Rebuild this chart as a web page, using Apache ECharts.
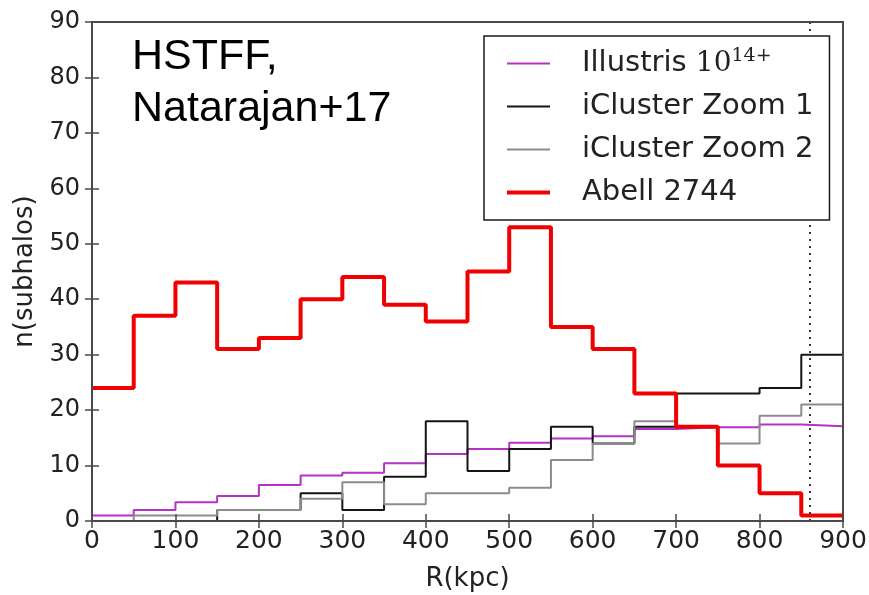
<!DOCTYPE html>
<html>
<head>
<meta charset="utf-8">
<script src="https://cdn.jsdelivr.net/npm/echarts@6/dist/echarts.min.js"></script>
<style>
  html, body { margin: 0; padding: 0; background: #fff; }
  #chart { width: 869px; height: 595px; }
</style>
</head>
<body>
<div id="chart"></div>
<script>
// Radial subhalo counts in 50 kpc bins (left edges), last bin closes at 900 kpc
const binEdges = [0, 50, 100, 150, 200, 250, 300, 350, 400, 450, 500, 550, 600, 650, 700, 750, 800, 850];
const binEnd = 900;
const illustris = [1, 2, 3.4, 4.5, 6.5, 8.2, 8.7, 10.4, 12.1, 13, 14.1, 14.9, 15.3, 16.6, 16.9, 16.9, 17.4, 17.1];
const iclusterZoom1 = [0, 0, 0, 2, 2, 5, 2, 8, 18, 9, 13, 17, 14, 17, 23, 23, 24, 30];
const iclusterZoom2 = [0, 1, 1, 2, 2, 4, 7, 3, 5, 5, 6, 11, 14, 18, 17, 14, 19, 21];
const abell2744 = [24, 37, 43, 31, 33, 40, 44, 39, 36, 45, 53, 35, 31, 23, 17, 10, 5, 1];
const rMarker = 860;
const xTicks = [0, 900, 100];
const yTicks = [0, 90, 10];

// step-histogram outline: each bin's left edge, plus the closing right edge
function stepPoints(values) {
  const pts = binEdges.map((e, i) => [e, values[i]]);
  pts.push([binEnd, values[values.length - 1]]);
  return pts;
}

const frameColor = '#4a4a4a';
const tickStyle = { show: true, inside: true, length: 7, lineStyle: { color: frameColor, width: 1.5 } };

function stepSeries(name, values, color, width, z) {
  return {
    name: name,
    type: 'line',
    step: 'end',
    data: stepPoints(values),
    symbol: 'none',
    showSymbol: false,
    z: z,
    lineStyle: { color: color, width: width },
    itemStyle: { color: color },
    animation: false
  };
}

const chart = echarts.init(document.getElementById('chart'), null, { renderer: 'canvas' });

const series = [
  stepSeries('Illustris', illustris, '#b432c4', 2, 2),
  stepSeries('iCluster Zoom 1', iclusterZoom1, '#151515', 2, 3),
  stepSeries('iCluster Zoom 2', iclusterZoom2, '#8c8c8c', 2, 4),
  stepSeries('Abell 2744', abell2744, '#f00000', 4, 5)
];
series[1].markLine = {
  silent: true,
  symbol: 'none',
  label: { show: false },
  lineStyle: { color: '#222', width: 1.8, type: [2, 5] },
  data: [{ xAxis: rMarker }],
  animation: false
};

chart.setOption({
  animation: false,
  backgroundColor: '#fff',
  title: {
    text: 'HSTFF,\nNatarajan+17',
    left: 127,
    top: 26,
    textStyle: {
      fontFamily: 'Liberation Sans',
      fontSize: 43,
      fontWeight: 'normal',
      color: '#000',
      lineHeight: 52
    }
  },
  grid: {
    left: 92, right: 26, top: 22, bottom: 74,
    outerBoundsMode: 'none',
    containLabel: false,
    show: true, borderColor: frameColor, borderWidth: 2, backgroundColor: 'transparent',
    z: 10
  },
  legend: {
    orient: 'vertical',
    left: 484,
    top: 36,
    padding: [11, 16, 13, 21],
    itemWidth: 43,
    itemHeight: 30,
    itemGap: 14,
    itemStyle: { opacity: 0, borderWidth: 0 },
    lineStyle: { width: 'inherit' },
    borderColor: '#1a1a1a',
    borderWidth: 1.5,
    backgroundColor: '#fff',
    z: 20,
    data: ['Illustris', 'iCluster Zoom 1', 'iCluster Zoom 2', 'Abell 2744'],
    formatter: function (name) {
      if (name === 'Illustris') return '{a|Illustris }{b|10}{c|14+}';
      return name;
    },
    textStyle: {
      fontFamily: 'DejaVu Sans',
      fontSize: 29,
      color: '#222',
      padding: [0, 0, 0, 27],
      rich: {
        a: { fontFamily: 'DejaVu Sans', fontSize: 29, color: '#222' },
        b: { fontFamily: 'DejaVu Serif', fontSize: 28, color: '#222' },
        c: { fontFamily: 'DejaVu Serif', fontSize: 19, color: '#222', verticalAlign: 'bottom', padding: [0, 0, 14, 0] }
      }
    }
  },
  xAxis: [
    {
      type: 'value', min: xTicks[0], max: xTicks[1], interval: xTicks[2],
      position: 'bottom',
      name: 'R(kpc)', nameLocation: 'middle', nameGap: 45,
      nameTextStyle: { fontFamily: 'DejaVu Sans', fontSize: 26, color: '#222' },
      axisLine: { show: true, lineStyle: { color: frameColor, width: 2 } },
      axisTick: tickStyle,
      axisLabel: { fontFamily: 'DejaVu Sans', fontSize: 25, color: '#222', margin: 8 },
      splitLine: { show: false },
      z: 10
    },
    {
      type: 'value', min: xTicks[0], max: xTicks[1], interval: xTicks[2],
      position: 'top',
      axisLine: { show: true, lineStyle: { color: frameColor, width: 2 } },
      axisTick: tickStyle,
      axisLabel: { show: false },
      splitLine: { show: false },
      z: 10
    }
  ],
  yAxis: [
    {
      type: 'value', min: yTicks[0], max: yTicks[1], interval: yTicks[2],
      position: 'left',
      name: 'n(subhalos)', nameLocation: 'middle', nameGap: 46, nameRotate: 90,
      nameTextStyle: { fontFamily: 'DejaVu Sans', fontSize: 26, color: '#222' },
      axisLine: { show: true, lineStyle: { color: frameColor, width: 2 } },
      axisTick: tickStyle,
      axisLabel: { fontFamily: 'DejaVu Sans', fontSize: 24, color: '#222', margin: 12 },
      splitLine: { show: false },
      z: 10
    },
    {
      type: 'value', min: yTicks[0], max: yTicks[1], interval: yTicks[2],
      position: 'right',
      axisLine: { show: true, lineStyle: { color: frameColor, width: 2 } },
      axisTick: tickStyle,
      axisLabel: { show: false },
      splitLine: { show: false },
      z: 10
    }
  ],
  series: series
});
</script>
</body>
</html>
